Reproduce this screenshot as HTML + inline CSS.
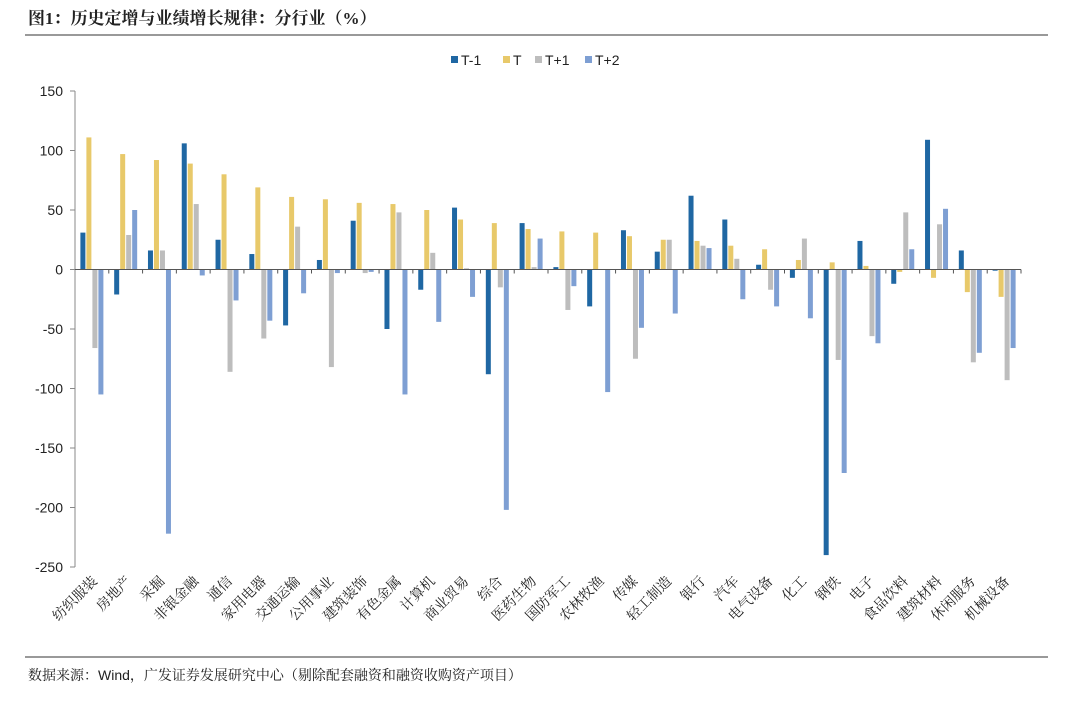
<!DOCTYPE html>
<html><head><meta charset="utf-8"><style>
body{margin:0;background:#fff;font-family:"Liberation Sans","Noto Sans CJK SC",sans-serif;}
</style></head><body>
<svg width="1080" height="700" xmlns="http://www.w3.org/2000/svg">
<text x="28" y="24" font-size="17" font-weight="bold" fill="#222" font-family="Liberation Serif, Noto Serif CJK SC, serif">图1：历史定增与业绩增长规律：分行业（%）</text>
<line x1="25" y1="35" x2="1048" y2="35" stroke="#333" stroke-width="1"/>
<line x1="25" y1="657" x2="1048" y2="657" stroke="#333" stroke-width="1"/>
<text x="28" y="680" font-size="14" fill="#222" font-family="Liberation Sans, Noto Serif CJK SC, serif">数据来源：Wind，广发证券发展研究中心（剔除配套融资和融资收购资产项目）</text>
<g id="legend"></g>
<g id="plot"></g>
</svg>
<script>
const categories=["纺织服装","房地产","采掘","非银金融","通信","家用电器","交通运输","公用事业","建筑装饰","有色金属","计算机","商业贸易","综合","医药生物","国防军工","农林牧渔","传媒","轻工制造","银行","汽车","电气设备","化工","钢铁","电子","食品饮料","建筑材料","休闲服务","机械设备"];
const seriesNames=["T-1","T","T+1","T+2"];
const sTm1=[31,-21,16,106,25,13,-47,8,41,-50,-17,52,-88,39,2,-31,33,15,62,42,4,-7,-240,24,-12,109,16,-1];
const sT=[111,97,92,89,80,69,61,59,56,55,50,42,39,34,32,31,28,25,24,20,17,8,6,3,-2,-7,-19,-23];
const sTp1=[-66,29,16,55,-86,-58,36,-82,-3,48,14,1,-15,2,-34,0,-75,25,20,9,-17,26,-76,-56,48,38,-78,-93];
const sTp2=[-105,50,-222,-5,-26,-43,-20,-3,-2,-105,-44,-23,-202,26,-14,-103,-49,-37,18,-25,-31,-41,-171,-62,17,51,-70,-66];
const yTicks=[150,100,50,0,-50,-100,-150,-200,-250];
const colors=["#1f67a3","#e8c96a","#bdbdbd","#7e9fd3"];
const NS="http://www.w3.org/2000/svg";
const plot=document.getElementById('plot');
const X0=75,X1=1021,YT=91,YB=567,VMAX=150,VMIN=-250;
function y(v){return YT+(VMAX-v)*(YB-YT)/(VMAX-VMIN);}
const band=(X1-X0)/categories.length;
function xc(i){return X0+band*(i+0.5);}
function mk(tag,attrs,parent){const e=document.createElementNS(NS,tag);for(const k in attrs)e.setAttribute(k,attrs[k]);(parent||plot).appendChild(e);return e;}
let ax=mk('line',{x1:X0,y1:YT,x2:X0,y2:YB,stroke:'#888'});


yTicks.forEach(t=>{
 const l=mk('line',{x1:X0-5,y1:y(t),x2:X0,y2:y(t),stroke:'#888'});
 
 
 const tx=mk('text',{x:X0-12,y:y(t)+5,'text-anchor':'end','font-size':14,fill:'#222'});
 tx.textContent=t;
 
 
});
const series=[sTm1,sT,sTp1,sTp2];
const bw=5,gap=1;
categories.forEach((c,i)=>{
 series.forEach((s,k)=>{
  const v=s[i];
  const bx=xc(i)-(4*bw+3*gap)/2+k*(bw+gap);
  const y0=y(0),yv=y(v);
  const r=mk('rect',{x:bx,y:Math.min(y0,yv),width:bw,height:Math.max(Math.abs(yv-y0),0.5),fill:colors[k]});
  
  
 });
 const tk=mk('line',{x1:X0+band*(i+1),y1:y(0),x2:X0+band*(i+1),y2:y(0)+4,stroke:'#555'});
 
 
 const lx=xc(i)+6,ly=582;
 const t=mk('text',{x:lx,y:ly,'text-anchor':'end','font-size':14,fill:'#222','font-family':'Noto Serif CJK SC, serif',transform:`rotate(-45 ${lx} ${ly})`});
 t.textContent=c;
 
 
});
let xa=mk('line',{x1:X0,y1:y(0),x2:X1,y2:y(0),stroke:'#555'});


const lg=document.getElementById('legend');
const lxs=[451,503,535,585];
seriesNames.forEach((n,k)=>{
 const r=mk('rect',{x:lxs[k],y:56,width:7,height:7,fill:colors[k]},lg);
 
 
 const t=mk('text',{x:lxs[k]+10,y:65,'font-size':14,fill:'#222'},lg);
 t.textContent=n;
 
 
});
</script>
</body></html>
